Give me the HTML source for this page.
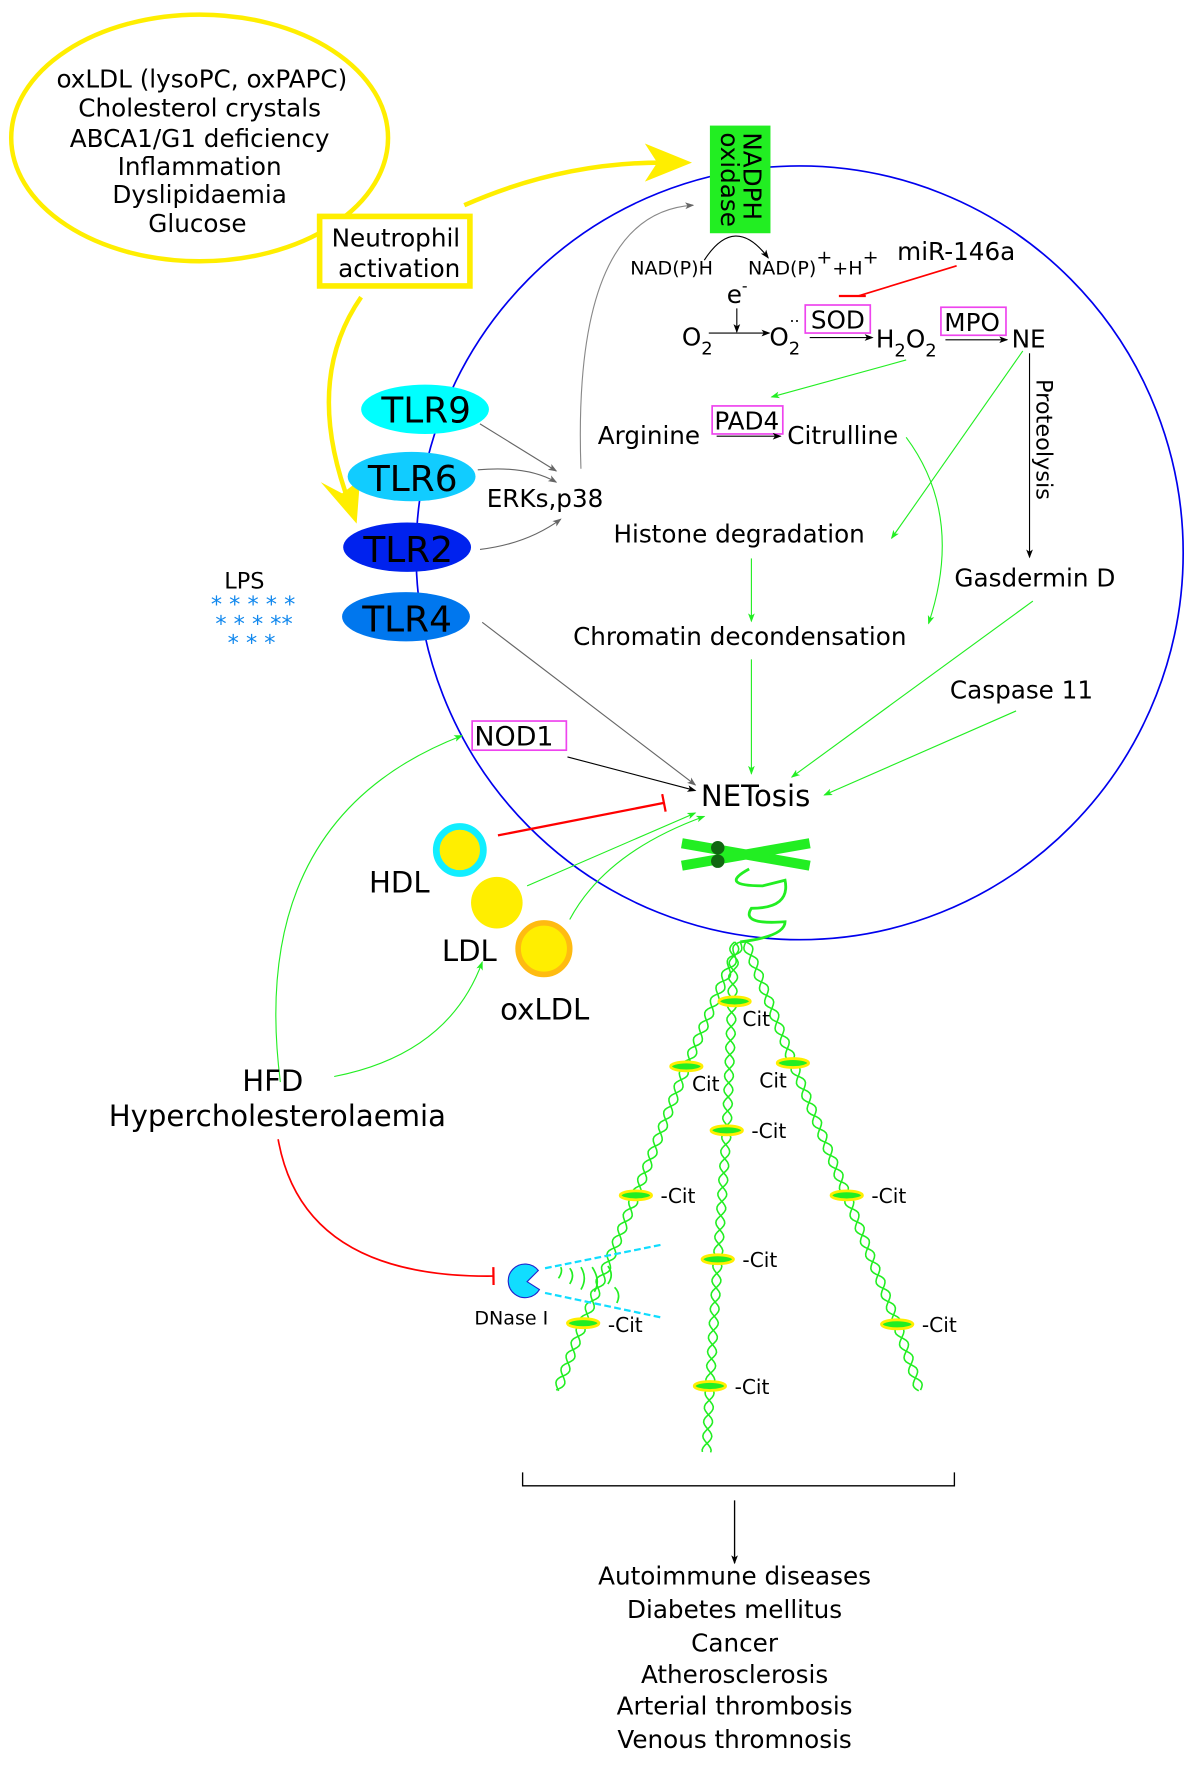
<!DOCTYPE html>
<html><head><meta charset="utf-8"><style>
html,body{margin:0;padding:0;background:#fff}
svg{display:block}
text{font-family:"DejaVu Sans","Liberation Sans",sans-serif}
</style></head><body>
<svg id="s" width="1200" height="1765" viewBox="0 0 1070 1574" preserveAspectRatio="none" xmlns="http://www.w3.org/2000/svg">
<defs>
<marker id="ak" markerWidth="8" markerHeight="8" refX="7" refY="4" orient="auto" markerUnits="userSpaceOnUse"><path d="M0,1 L8,4 L0,7 L2,4z" fill="#000"/></marker>
<marker id="ag" markerWidth="8" markerHeight="8" refX="7" refY="4" orient="auto" markerUnits="userSpaceOnUse"><path d="M0,1 L8,4 L0,7 L2,4z" fill="#666"/></marker>
<marker id="agr" markerWidth="8" markerHeight="8" refX="7" refY="4" orient="auto" markerUnits="userSpaceOnUse"><path d="M0,1 L8,4 L0,7 L2,4z" fill="#2e2"/></marker>
<marker id="tr" markerWidth="4" markerHeight="16" refX="2" refY="8" orient="auto" markerUnits="userSpaceOnUse"><path d="M2,0 L2,16" stroke="red" stroke-width="2"/></marker>
</defs>
<ellipse cx="713" cy="493" rx="342" ry="345" fill="none" stroke="#0000ee" stroke-width="1.5"/>
<ellipse cx="178" cy="123" rx="168" ry="110" fill="none" stroke="#ffee00" stroke-width="4"/>
<g font-size="22" text-anchor="middle">
<text x="180" y="78">oxLDL (lysoPC, oxPAPC)</text>
<text x="178" y="104">Cholesterol crystals</text>
<text x="178" y="131">ABCA1/G1 deficiency</text>
<text x="178" y="156">Inflammation</text>
<text x="178" y="181">Dyslipidaemia</text>
<text x="176" y="207">Glucose</text>
</g>
<rect x="285" y="193" width="134" height="62" fill="#fff" stroke="#ffee00" stroke-width="5"/>
<text x="353" y="220" font-size="22" text-anchor="middle">Neutrophil</text>
<text x="356" y="247" font-size="22" text-anchor="middle">activation</text>
<path d="M414,183 Q500,145 590,145" fill="none" stroke="#ffee00" stroke-width="4"/>
<path d="M617,145 L575,128 L586,145 L575,162z" fill="#ffee00"/>
<path d="M322,265 Q270,340 312,450" fill="none" stroke="#ffee00" stroke-width="4"/>
<path d="M318,467 L286,430 L305,440 L321,428z" fill="#ffee00"/>
<rect x="633" y="112" width="54" height="96" fill="#22ee22"/>
<text transform="translate(660,118) rotate(90)" font-size="22"><tspan x="0" dy="-3">NADPH</tspan><tspan x="0" dy="20">oxidase</tspan></text>
<path d="M628,232 Q655,190 685,230" fill="none" stroke="#000" stroke-width="1" marker-end="url(#ak)"/>
<text x="562" y="245" font-size="17">NAD(P)H</text>
<text x="667" y="245" font-size="17">NAD(P)<tspan dy="-10">+</tspan><tspan dy="10">+H</tspan><tspan dy="-10">+</tspan></text>
<text x="800" y="232" font-size="22">miR-146a</text>
<line x1="853" y1="237" x2="765" y2="264" stroke="red" stroke-width="1.5"/>
<line x1="748" y1="264" x2="772" y2="264" stroke="red" stroke-width="2"/>
<text x="648" y="270" font-size="22">e<tspan dy="-10" font-size="14">-</tspan></text>
<line x1="657" y1="275" x2="657" y2="296" stroke="#000" marker-end="url(#ak)"/>
<text x="608" y="308" font-size="22">O<tspan dy="8" font-size="16">2</tspan></text>
<line x1="632" y1="297" x2="686" y2="297" stroke="#000" marker-end="url(#ak)"/>
<text x="686" y="308" font-size="22">O<tspan dy="8" font-size="16">2</tspan></text>
<text x="704" y="291" font-size="14">··</text>
<rect x="718" y="272" width="58" height="25" fill="none" stroke="#ee44ee" stroke-width="1.5"/>
<text x="723" y="293" font-size="22">SOD</text>
<line x1="722" y1="301" x2="778" y2="301" stroke="#000" marker-end="url(#ak)"/>
<text x="781" y="310" font-size="22">H<tspan dy="8" font-size="16">2</tspan><tspan dy="-8">O</tspan><tspan dy="8" font-size="16">2</tspan></text>
<rect x="839" y="274" width="58" height="25" fill="none" stroke="#ee44ee" stroke-width="1.5"/>
<text x="842" y="295" font-size="22">MPO</text>
<line x1="843" y1="303" x2="898" y2="303" stroke="#000" marker-end="url(#ak)"/>
<text x="902" y="310" font-size="22">NE</text>
<line x1="918" y1="315" x2="918" y2="497" stroke="#000" marker-end="url(#ak)"/>
<text transform="translate(924,338) rotate(90)" font-size="20">Proteolysis</text>
<text x="851" y="523" font-size="22">Gasdermin D</text>
<line x1="808" y1="321" x2="688" y2="354" stroke="#22ee22" marker-end="url(#agr)"/>
<rect x="635" y="362" width="63" height="25" fill="none" stroke="#ee44ee" stroke-width="1.5"/>
<text x="637" y="383" font-size="22">PAD4</text>
<text x="533" y="396" font-size="22">Arginine</text>
<line x1="639" y1="389" x2="696" y2="389" stroke="#000" marker-end="url(#ak)"/>
<text x="702" y="396" font-size="22">Citrulline</text>
<line x1="912" y1="313" x2="795" y2="480" stroke="#22ee22" marker-end="url(#agr)"/>
<path d="M808,390 Q860,460 828,556" fill="none" stroke="#22ee22" marker-end="url(#agr)"/>
<text x="547" y="484" font-size="22">Histone degradation</text>
<line x1="670" y1="498" x2="670" y2="554" stroke="#22ee22" marker-end="url(#agr)"/>
<text x="511" y="575" font-size="22">Chromatin decondensation</text>
<line x1="670" y1="588" x2="670" y2="690" stroke="#22ee22" marker-end="url(#agr)"/>
<line x1="921" y1="536" x2="706" y2="693" stroke="#22ee22" marker-end="url(#agr)"/>
<text x="847" y="623" font-size="22">Caspase 11</text>
<line x1="906" y1="634" x2="735" y2="709" stroke="#22ee22" marker-end="url(#agr)"/>
<text x="625" y="719" font-size="26">NETosis</text>
<ellipse cx="379" cy="365" rx="57" ry="22" fill="#00ffff"/>
<text x="380" y="377" font-size="32" text-anchor="middle">TLR9</text>
<ellipse cx="367" cy="425" rx="57" ry="22" fill="#11ccff"/>
<text x="368" y="438" font-size="32" text-anchor="middle">TLR6</text>
<ellipse cx="363" cy="488" rx="57" ry="22" fill="#0022ee"/>
<text x="364" y="501" font-size="32" text-anchor="middle">TLR2</text>
<ellipse cx="362" cy="550" rx="57" ry="22" fill="#0077ee"/>
<text x="363" y="563" font-size="32" text-anchor="middle">TLR4</text>
<line x1="428" y1="378" x2="496" y2="420" stroke="#666" marker-end="url(#ag)"/>
<path d="M426,419 Q470,415 496,430" fill="none" stroke="#666" marker-end="url(#ag)"/>
<path d="M428,490 Q470,485 500,463" fill="none" stroke="#666" marker-end="url(#ag)"/>
<text x="434" y="452" font-size="22">ERKs,p38</text>
<path d="M518,418 Q510,190 618,183" fill="none" stroke="#888" marker-end="url(#ag)"/>
<line x1="430" y1="555" x2="620" y2="700" stroke="#666" marker-end="url(#ag)"/>
<text x="200" y="525" font-size="20">LPS</text>
<g style="fill:#1188ee" font-size="20">
<text x="188" y="546">* * * * *</text>
<text x="192" y="563">* * * **</text>
<text x="203" y="580">* *   *</text>
</g>
<rect x="421" y="643" width="84" height="26" fill="none" stroke="#ee44ee" stroke-width="1.5"/>
<text x="423" y="665" font-size="24">NOD1</text>
<line x1="506" y1="675" x2="620" y2="705" stroke="#000" marker-end="url(#ak)"/>
<path d="M250,965 Q220,730 412,656" fill="none" stroke="#22ee22" marker-end="url(#agr)"/>
<circle cx="410" cy="758" r="21" fill="#ffee00" stroke="#11eeff" stroke-width="6"/>
<text x="329" y="796" font-size="26">HDL</text>
<circle cx="443" cy="805" r="23" fill="#ffee00"/>
<text x="394" y="857" font-size="26">LDL</text>
<circle cx="485" cy="846" r="23" fill="#ffee00" stroke="#ffbb11" stroke-width="5"/>
<text x="446" y="909" font-size="26">oxLDL</text>
<line x1="444" y1="745" x2="592" y2="716" stroke="red" stroke-width="2" marker-end="url(#tr)"/>
<line x1="470" y1="790" x2="620" y2="725" stroke="#22ee22" marker-end="url(#agr)"/>
<path d="M508,820 Q540,760 628,728" fill="none" stroke="#22ee22" marker-end="url(#agr)"/>
<path d="M298,960 Q400,940 430,858" fill="none" stroke="#22ee22" marker-end="url(#agr)"/>
<text x="216" y="973" font-size="26">HFD</text>
<text x="97" y="1004" font-size="26">Hypercholesterolaemia</text>
<path d="M248,1016 Q270,1140 440,1138" fill="none" stroke="red" stroke-width="1.5" marker-end="url(#tr)"/>
<line x1="608" y1="752" x2="722" y2="772" stroke="#22ee22" stroke-width="9"/>
<line x1="608" y1="772" x2="722" y2="752" stroke="#22ee22" stroke-width="9"/>
<circle cx="640" cy="756" r="6" fill="#116611"/><circle cx="640" cy="768" r="6" fill="#116611"/>
<path d="M668,775 Q640,790 680,790 L700,785 Q705,810 670,810 Q660,825 700,822 Q700,835 660,840" fill="none" stroke="#22ee22" stroke-width="2.5"/>
<g id="dna"></g>
<path d="M470,1143 L480,1133 A15,15 0 1 0 481,1150 z" fill="#11ddff" stroke="#2222cc" stroke-width="1"/>
<line x1="486" y1="1131" x2="590" y2="1110" stroke="#11ddff" stroke-width="2" stroke-dasharray="6,3"/>
<line x1="486" y1="1153" x2="590" y2="1175" stroke="#11ddff" stroke-width="2" stroke-dasharray="6,3"/>
<g stroke="#22ee22" fill="none" stroke-width="1.5">
<path d="M498,1140 q4,-6 2,-10 M508,1145 q5,-8 0,-14 M518,1150 q6,-10 0,-20 M530,1152 q6,-10 -2,-22 M542,1145 q6,-8 0,-16 M550,1162 q4,-8 -2,-14"/>
</g>
<text x="423" y="1181" font-size="17">DNase I</text>
<path d="M466,1313 L466,1325 L851,1325 L851,1313" fill="none" stroke="#000" stroke-width="1.2"/>
<line x1="655" y1="1338" x2="655" y2="1394" stroke="#000" stroke-width="1.2" marker-end="url(#ak)"/>
<g font-size="22" text-anchor="middle">
<text x="655" y="1413">Autoimmune diseases</text>
<text x="655" y="1443">Diabetes mellitus</text>
<text x="655" y="1473">Cancer</text>
<text x="655" y="1501">Atherosclerosis</text>
<text x="655" y="1529">Arterial thrombosis</text>
<text x="655" y="1559">Venous thromnosis</text>
</g>
</svg>
<script>
(function(){
var ns="http://www.w3.org/2000/svg",g=document.getElementById("dna");
function strand(pts){
 for(var k=0;k<2;k++){
  var d="";
  for(var i=0;i<pts.length-1;i++){
   var a=pts[i],b=pts[i+1],dx=b[0]-a[0],dy=b[1]-a[1],L=Math.hypot(dx,dy),nx=-dy/L,ny=dx/L,n=Math.floor(L/2);
   for(var j=0;j<=n;j++){var t=j/n,s=j*2;var w=4*Math.sin(s/4+k*Math.PI);
    d+=(d?"L":"M")+(a[0]+dx*t+nx*w).toFixed(1)+","+(a[1]+dy*t+ny*w).toFixed(1);}
  }
  var p=document.createElementNS(ns,"path");p.setAttribute("d",d);p.setAttribute("fill","none");p.setAttribute("stroke","#22ee22");p.setAttribute("stroke-width","1.4");g.appendChild(p);
 }
}
strand([[660,840],[612,951],[567,1066],[520,1180],[497,1240]]);
strand([[655,840],[648,1008],[640,1123],[633,1236],[630,1295]]);
strand([[665,840],[707,948],[755,1066],[800,1181],[820,1240]]);
var cits=[[655,893,662,915,0],[612,951,617,973,0],[707,948,677,970,0],[648,1008,670,1015,1],[567,1066,589,1073,1],[755,1066,777,1073,1],[640,1123,662,1130,1],[520,1180,542,1188,1],[800,1181,822,1188,1],[633,1236,655,1243,1]];
cits.forEach(function(c){
 var e=document.createElementNS(ns,"ellipse");e.setAttribute("cx",c[0]);e.setAttribute("cy",c[1]);e.setAttribute("rx",14);e.setAttribute("ry",4);e.setAttribute("fill","#22ee22");e.setAttribute("stroke","#ffee00");e.setAttribute("stroke-width","2.5");g.appendChild(e);
 var t=document.createElementNS(ns,"text");t.setAttribute("x",c[2]);t.setAttribute("y",c[3]);t.setAttribute("font-size","18");t.textContent=(c[4]?"-":"")+"Cit";g.appendChild(t);
});
})();
</script>
</body></html>
